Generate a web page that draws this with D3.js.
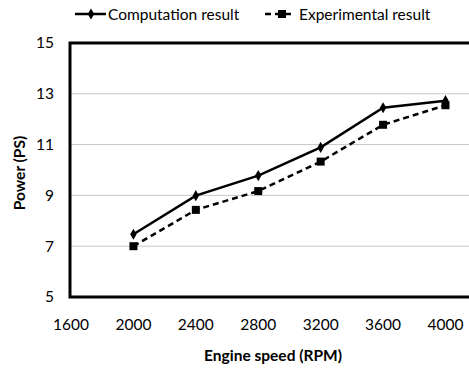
<!DOCTYPE html>
<html><head><meta charset="utf-8">
<script src="https://cdn.jsdelivr.net/npm/d3@7"></script>
<style>body{margin:0;background:#fff}svg{display:block}text{font-family:Lato,"Open Sans",sans-serif;fill:#000}</style>
</head><body>
<svg id="c" width="469" height="368"></svg>
<script>
const speeds = [2000, 2400, 2800, 3200, 3600, 4000];
const computation = [7.47, 8.99, 9.78, 10.89, 12.45, 12.73];
const experimental = [7.0, 8.43, 9.17, 10.33, 11.78, 12.55];
const xTicks = [1600, 2000, 2400, 2800, 3200, 3600, 4000];
const yTicks = [5, 7, 9, 11, 13, 15];
const seriesNames = ["Computation result", "Experimental result"];

const FS = 15.5;
const svg = d3.select("#c");
const x = d3.scaleLinear().domain([1600, 4200]).range([71, 476.7]);
const y = d3.scaleLinear().domain([5, 15]).range([297, 43]);

// gridlines
svg.append("g").selectAll("line").data(yTicks.filter(d => d > 5 && d < 15)).join("line")
  .attr("x1", x(1600)).attr("x2", 469).attr("y1", d => y(d)).attr("y2", d => y(d))
  .attr("stroke", "#c8c8c8").attr("stroke-width", 1);

// frame
const fr = svg.append("g").attr("stroke", "#000").attr("stroke-width", 3).attr("fill", "none");
fr.append("path").attr("d", `M${x(4200)+5},${y(15)}H${x(1600)-1}V${y(5)}H${x(4200)+5}`);

// y tick labels
svg.append("g").selectAll("text").data(yTicks).join("text")
  .attr("x", 54).attr("y", d => y(d)).attr("dy", "0.35em").attr("text-anchor", "end")
  .attr("font-size", FS).text(d => d);

// x tick labels
svg.append("g").selectAll("text").data(xTicks).join("text")
  .attr("x", d => x(d)).attr("y", 330).attr("text-anchor", "middle")
  .attr("font-size", FS).text(d => d);

// axis titles
svg.append("text").attr("x", 273).attr("y", 361).attr("text-anchor", "middle")
  .attr("font-size", FS).attr("font-weight", "bold").text("Engine speed (RPM)");
svg.append("text").attr("transform", "translate(25,173) rotate(-90)").attr("text-anchor", "middle")
  .attr("font-size", FS).attr("font-weight", "bold").text("Power (PS)");

const line = d3.line().x((d, i) => x(speeds[i])).y(d => y(d));
const diamond = d3.symbol().type(d3.symbolDiamond).size(36);
const square = d3.symbol().type(d3.symbolSquare).size(64);

// experimental
svg.append("path").datum(experimental).attr("d", line).attr("fill", "none")
  .attr("stroke", "#000").attr("stroke-width", 2.5).attr("stroke-dasharray", "6,4");
svg.append("g").selectAll("path").data(experimental).join("path")
  .attr("d", square).attr("transform", (d, i) => `translate(${x(speeds[i])},${y(d)})`).attr("fill", "#000");

// computation
svg.append("path").datum(computation).attr("d", line).attr("fill", "none")
  .attr("stroke", "#000").attr("stroke-width", 2.5);
svg.append("g").selectAll("path").data(computation).join("path")
  .attr("d", diamond).attr("transform", (d, i) => `translate(${x(speeds[i])},${y(d)})`).attr("fill", "#000");

// legend
const lg = svg.append("g");
lg.append("line").attr("x1", 75).attr("x2", 106).attr("y1", 14).attr("y2", 14).attr("stroke", "#000").attr("stroke-width", 2.5);
lg.append("path").attr("d", diamond).attr("transform", "translate(91,14)");
lg.append("text").attr("x", 108).attr("y", 19.5).attr("font-size", FS).text(seriesNames[0]);
lg.append("line").attr("x1", 265).attr("x2", 293).attr("y1", 14).attr("y2", 14).attr("stroke", "#000").attr("stroke-width", 2.5).attr("stroke-dasharray", "6,4");
lg.append("path").attr("d", square).attr("transform", "translate(282,14)");
lg.append("text").attr("x", 299).attr("y", 19.5).attr("font-size", FS).text(seriesNames[1]);
</script>
</body></html>
